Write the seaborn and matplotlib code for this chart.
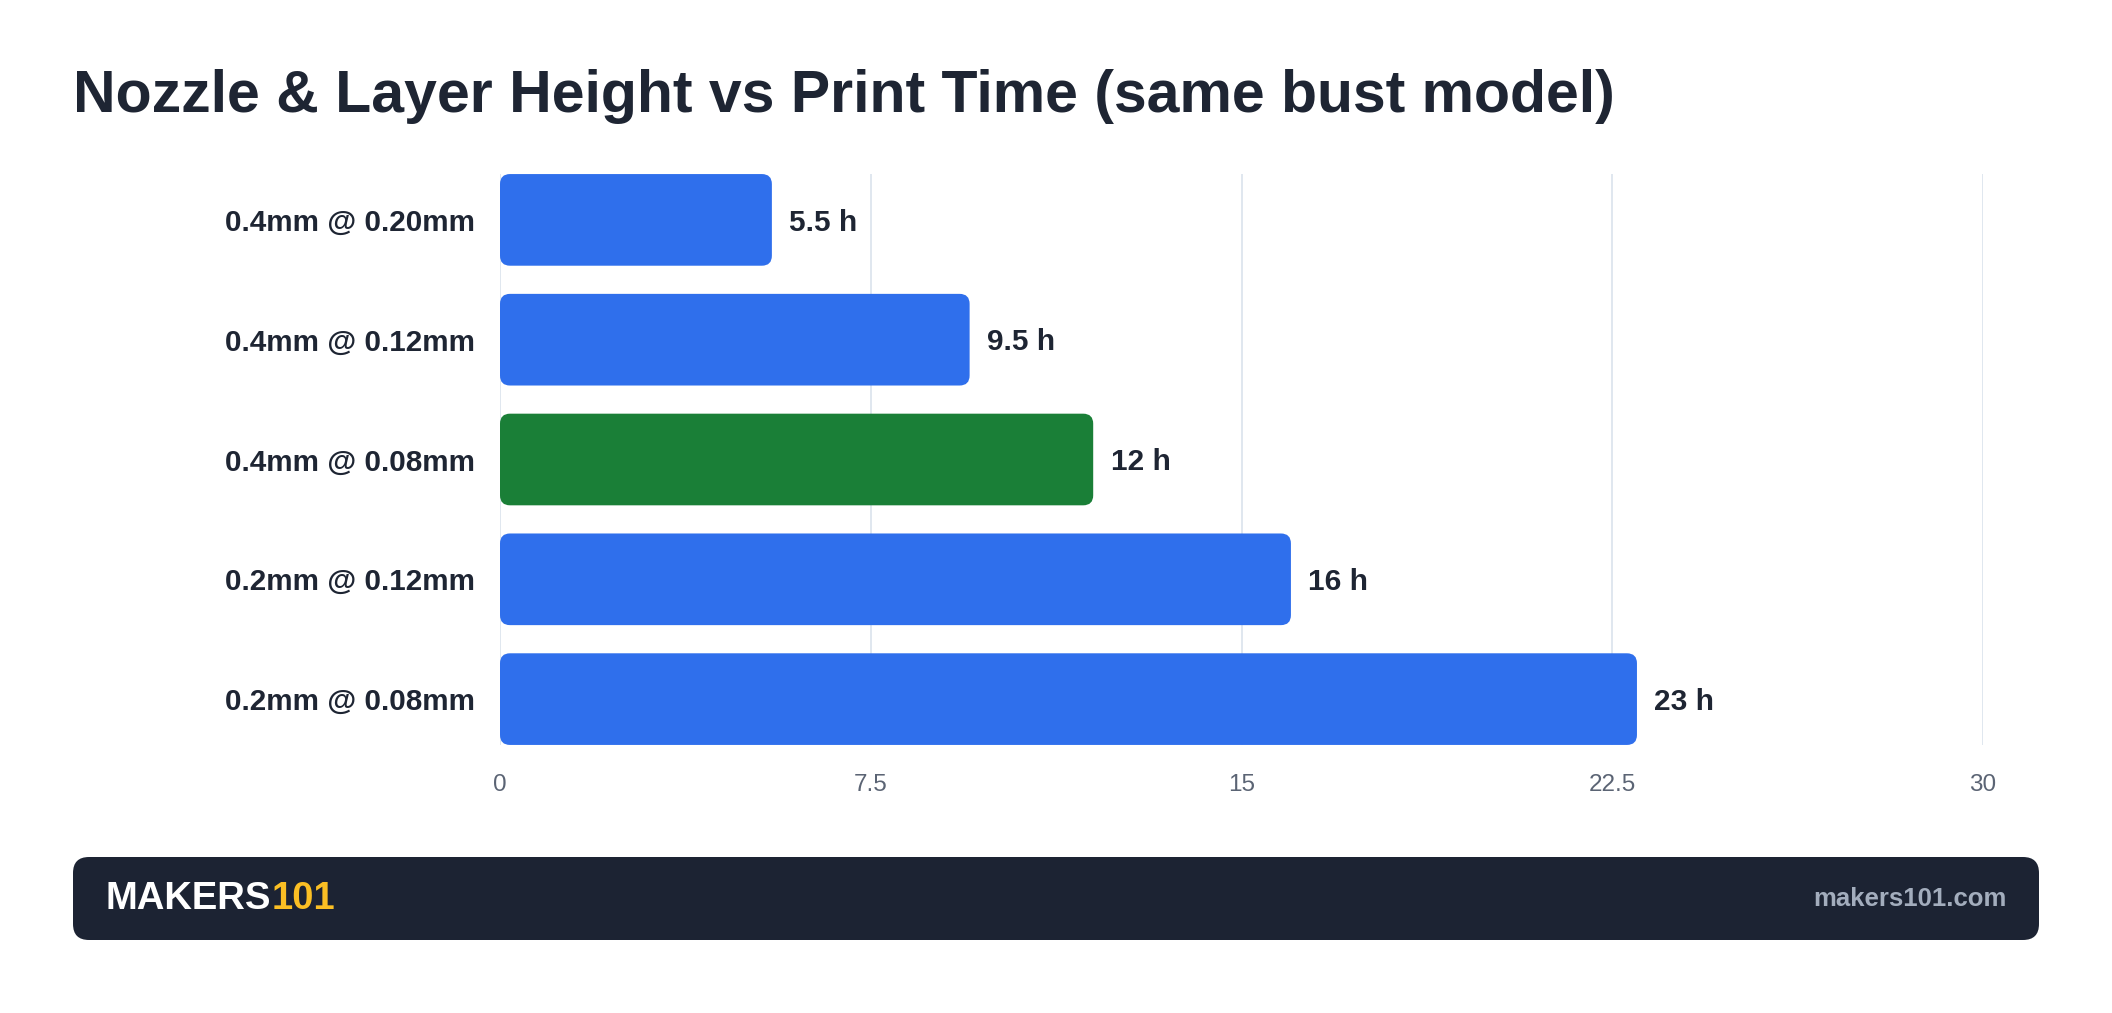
import matplotlib
matplotlib.use("Agg")
import matplotlib.pyplot as plt
from matplotlib.patches import FancyBboxPatch
from matplotlib.text import Annotation
import seaborn as sns
import pandas as pd

# ---- data ----
categories = ["0.4mm @ 0.20mm", "0.4mm @ 0.12mm", "0.4mm @ 0.08mm", "0.2mm @ 0.12mm", "0.2mm @ 0.08mm"]
hours = [5.5, 9.5, 12, 16, 23]
value_labels = ["5.5 h", "9.5 h", "12 h", "16 h", "23 h"]
bar_colors = ["#2f6fec", "#2f6fec", "#1a7f37", "#2f6fec", "#2f6fec"]
x_ticks = [0, 7.5, 15, 22.5, 30]
x_tick_labels = ["0", "7.5", "15", "22.5", "30"]
title = "Nozzle & Layer Height vs Print Time (same bust model)"
brand_a, brand_b = "MAKERS", "101"
site = "makers101.com"

DARK = "#1e2533"
sns.set_theme(style="white")
plt.rcParams["font.family"] = ["Liberation Sans", "DejaVu Sans"]

df = pd.DataFrame({"cat": categories, "h": hours})

fig = plt.figure(figsize=(21.12, 10.13), dpi=100)
ax = fig.add_axes([500/2112, 1-745/1013, (1983-500)/2112, (745-174)/1013])

sns.barplot(data=df, y="cat", x="h", hue="cat", palette=bar_colors, order=categories,
            hue_order=categories, legend=False, width=0.765, ax=ax, saturation=1)

ax.set_xlim(0, 30)
ax.set_ylim(4.383, -0.383)

# replace rectangles with rounded bars
px_x = 30 / 1483
px_y = 4.766 / 571
aspect = px_y / px_x
for p in list(ax.patches):
    x0, y0, w, h = p.get_x(), p.get_y(), p.get_width(), p.get_height()
    fc = p.get_facecolor()
    p.remove()
    rb = FancyBboxPatch((x0, y0), w, h, boxstyle=f"round,pad=0,rounding_size={10*px_x}",
                        mutation_aspect=aspect, facecolor=fc, edgecolor="none", zorder=3)
    ax.add_patch(rb)

for i, (v, lab) in enumerate(zip(hours, value_labels)):
    ax.annotate(lab, xy=(v, i), xytext=(12.5, -2), textcoords="offset points",
                va="center", ha="left", fontsize=21.5, fontweight="bold", color=DARK)

ax.set_xticks(x_ticks)
ax.set_xticklabels(x_tick_labels)
ax.grid(axis="x", color="#dde5ee", linewidth=1.3, zorder=0)
ax.grid(axis="y", visible=False)
ax.set_axisbelow(True)
for s in ax.spines.values():
    s.set_visible(False)
ax.tick_params(axis="x", length=0, pad=21, labelsize=17.5, labelcolor="#5b6474")
ax.tick_params(axis="y", length=0, pad=18, labelsize=21.3)
for t in ax.get_yticklabels():
    t.set_fontweight("bold")
    t.set_color(DARK)
ax.set_xlabel("")
ax.set_ylabel("")

fig.text(73/2112, 1-97/1013, title, fontsize=42.5, fontweight="bold", color=DARK,
         ha="left", va="center")

# footer
footer = FancyBboxPatch((0.73, 0.73), 19.66, 0.83, boxstyle="round,pad=0,rounding_size=0.16",
                        transform=fig.dpi_scale_trans, facecolor="#1c2333", edgecolor="none",
                        zorder=1)
fig.add_artist(footer)
t1 = fig.text(1.05, 1.145, brand_a, transform=fig.dpi_scale_trans, fontsize=27.5,
              fontweight="bold", color="white", ha="left", va="center", zorder=5)
t2 = Annotation(brand_b, xy=(1, 0), xycoords=t1, xytext=(1, 0), textcoords="offset points",
                ha="left", va="bottom", fontsize=27.5, fontweight="bold", color="#fbbf24",
                annotation_clip=False, zorder=5)
fig.add_artist(t2)
fig.text(20.07, 1.145, site, transform=fig.dpi_scale_trans, fontsize=18.5,
         fontweight="bold", color="#a3adbd", ha="right", va="center", zorder=5)

fig.savefig("out.png", dpi=100, facecolor="white")
